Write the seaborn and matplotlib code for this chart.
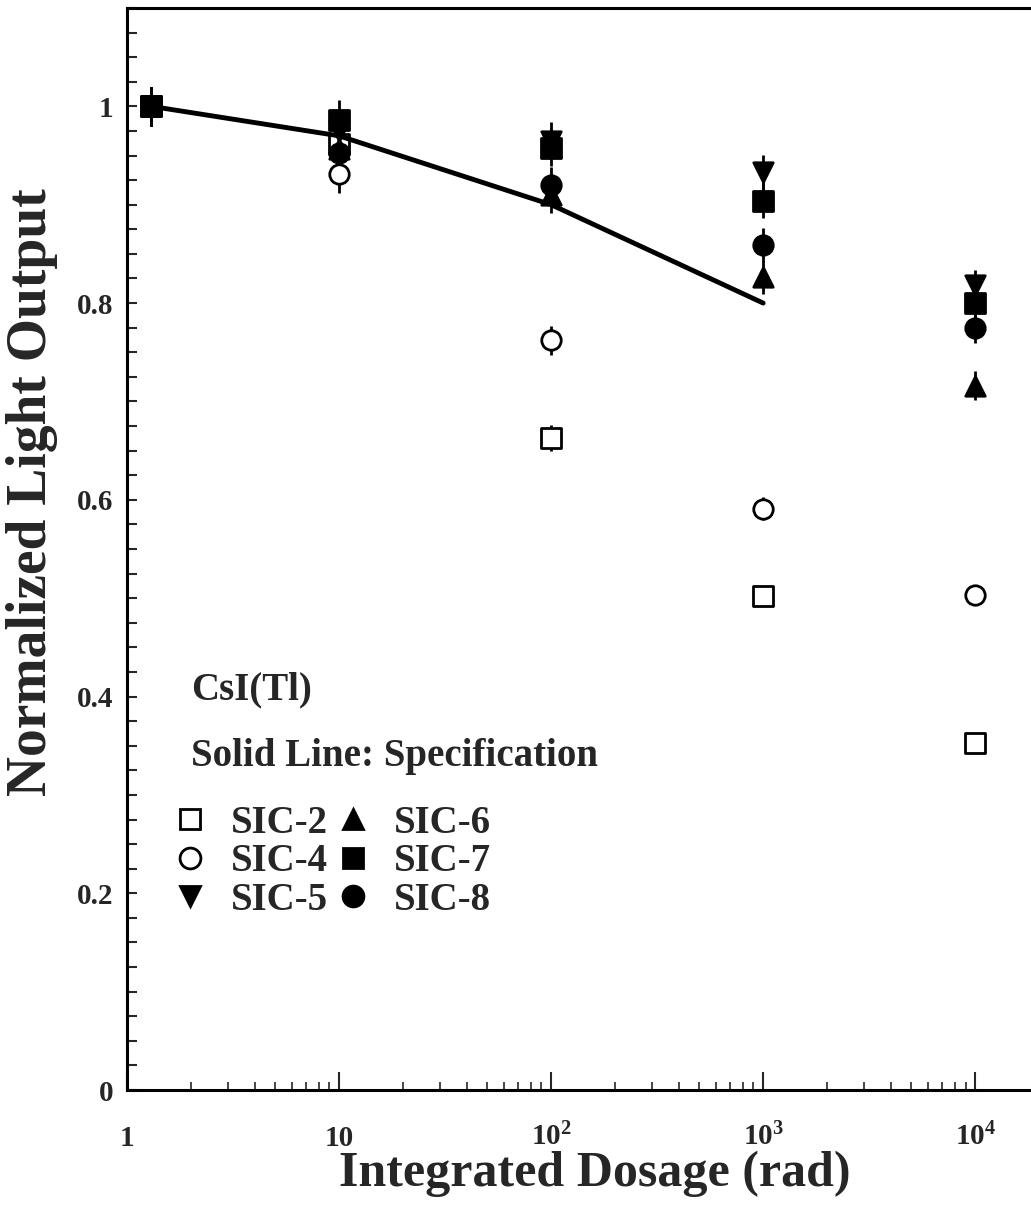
import numpy as np
import pandas as pd
import matplotlib
matplotlib.use("Agg")
import matplotlib.pyplot as plt
from matplotlib.lines import Line2D
from matplotlib.ticker import FixedLocator, LogLocator, NullFormatter
import seaborn as sns

# data
dose = [1.3, 10, 100, 1000, 10000]
spec_dose = [1.3, 10, 100, 1000]
spec_value = [1.0, 0.97, 0.90, 0.80]

sic2 = [1.0, 0.962, 0.663, 0.502, 0.353]
sic4 = [1.0, 0.931, 0.762, 0.591, 0.503]
sic5 = [1.0, 0.975, 0.965, 0.933, 0.818]
sic6 = [1.0, 0.957, 0.910, 0.826, 0.716]
sic7 = [1.0, 0.986, 0.958, 0.904, 0.800]
sic8 = [1.0, 0.953, 0.920, 0.859, 0.775]

err2 = [0.02, 0.019, 0.013, 0.010, 0.007]
err4 = [0.02, 0.019, 0.015, 0.012, 0.010]
err5 = [0.02, 0.020, 0.019, 0.018, 0.016]
err6 = [0.02, 0.019, 0.018, 0.017, 0.015]
err7 = [0.02, 0.020, 0.019, 0.018, 0.016]
err8 = [0.02, 0.019, 0.018, 0.017, 0.016]

names = ["SIC-2", "SIC-4", "SIC-5", "SIC-6", "SIC-7", "SIC-8"]
markers = ["s", "o", "v", "^", "s", "o"]
filled = [False, False, True, True, True, True]

xtick_labels = ["1", "10", r"$10^{2}$", r"$10^{3}$", r"$10^{4}$"]
ytick_vals = [0, 0.2, 0.4, 0.6, 0.8, 1.0]
ytick_labels = ["0", "0.2", "0.4", "0.6", "0.8", "1"]

sns.set_style("ticks")
plt.rcParams["font.family"] = ["Liberation Serif", "DejaVu Serif"]
plt.rcParams["font.weight"] = "bold"
plt.rcParams["mathtext.fontset"] = "custom"
plt.rcParams["mathtext.rm"] = "Liberation Serif:bold"
plt.rcParams["mathtext.it"] = "Liberation Serif:bold"
plt.rcParams["mathtext.bf"] = "Liberation Serif:bold"

df = pd.DataFrame({
    "dose": dose * 6,
    "value": sic2 + sic4 + sic5 + sic6 + sic7 + sic8,
    "err": err2 + err4 + err5 + err6 + err7 + err8,
    "sample": [n for n in names for _ in dose],
})
spec = pd.DataFrame({"dose": spec_dose, "value": spec_value})

fig = plt.figure(figsize=(10.31, 12.05), dpi=100)
ax = fig.add_axes([0.1232, 0.0954, 0.8846, 0.898])

msize = 14
for name, mk, fill in zip(names, markers, filled):
    sub = df[df["sample"] == name]
    ax.errorbar(sub["dose"], sub["value"], yerr=sub["err"], fmt="none",
                ecolor="black", elinewidth=2, capsize=0, zorder=2)
    sns.scatterplot(data=sub, x="dose", y="value", ax=ax, marker=mk,
                    s=msize ** 2, facecolor="black" if fill else "white",
                    edgecolor="black", linewidth=2, zorder=3, legend=False)

sns.lineplot(data=spec, x="dose", y="value", ax=ax, color="black",
             linewidth=3.5, zorder=4)

ax.set_xscale("log")
ax.set_xlim(1, 2e4)
ax.set_ylim(0, 1.1)

ax.xaxis.set_major_locator(FixedLocator([1, 10, 100, 1000, 10000]))
ax.set_xticklabels(xtick_labels)
ax.xaxis.set_minor_locator(LogLocator(base=10, subs=np.arange(2, 10)))
ax.xaxis.set_minor_formatter(NullFormatter())
ax.set_yticks(ytick_vals)
ax.set_yticklabels(ytick_labels)
ax.yaxis.set_minor_locator(FixedLocator(np.arange(0, 1.1001, 0.025)))

ax.tick_params(axis="x", which="major", direction="in", length=13, width=1.5,
               labelsize=21, pad=40)
ax.tick_params(axis="x", which="minor", direction="in", length=6, width=1.2)
ax.tick_params(axis="y", which="both", direction="in", length=7, width=1.5)
ax.tick_params(axis="y", which="major", labelsize=21, pad=10)
for t in ax.xaxis.get_major_ticks():
    t.label1.set_verticalalignment("baseline")

for side in ["left", "bottom", "top", "right"]:
    ax.spines[side].set_linewidth(2.2)
    ax.spines[side].set_color("black")

ax.set_xlabel("Integrated Dosage (rad)", fontsize=36, fontweight="bold")
ax.xaxis.set_label_coords(0.513, -0.056)
ax.set_ylabel("Normalized Light Output", fontsize=40, fontweight="bold")
ax.yaxis.set_label_coords(-0.076, 0.553)

ax.text(0.070, 0.3697, "CsI(Tl)", transform=ax.transAxes, fontsize=28,
        fontweight="bold", va="center", ha="left")
ax.text(0.070, 0.3078, "Solid Line: Specification", transform=ax.transAxes,
        fontsize=28, fontweight="bold", va="center", ha="left")

handles = [Line2D([], [], ls="none", marker=mk, ms=15,
                  mfc="black" if fill else "white", mec="black", mew=2)
           for mk, fill in zip(markers, filled)]
ax.legend(handles, names, loc="upper left", bbox_to_anchor=(0.0477, 0.2636),
          ncol=2, frameon=False, fontsize=28, handlelength=1.0,
          handletextpad=0.55, columnspacing=0.15, labelspacing=0.04,
          borderpad=0, borderaxespad=0)

fig.savefig("out.png", dpi=100)
